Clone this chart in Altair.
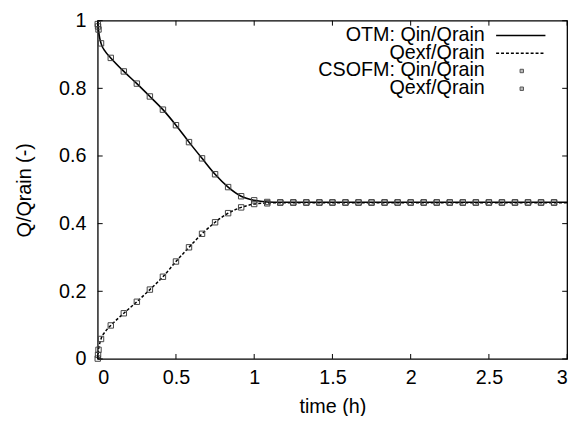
import altair as alt
import pandas as pd

FONT = "Liberation Sans"

# ---- data ----
# solid / dotted model curves (OTM)
t_line = [0.0, 0.002, 0.005, 0.01, 0.021, 0.05, 0.0833, 0.1667, 0.25, 0.3333,
          0.4167, 0.5, 0.5833, 0.6667, 0.75, 0.8333, 0.9167, 1.0, 1.0833, 1.1667,
          1.25, 1.5, 2.0, 2.5, 3.0]
qin_line = [1.0, 0.985, 0.972, 0.955, 0.933, 0.908, 0.890, 0.850, 0.814, 0.776,
            0.737, 0.691, 0.641, 0.593, 0.546, 0.508, 0.481, 0.469, 0.464, 0.463,
            0.463, 0.463, 0.463, 0.463, 0.463]
qexf_line = [0.0, 0.012, 0.027, 0.040, 0.059, 0.082, 0.099, 0.135, 0.169, 0.205,
             0.243, 0.288, 0.330, 0.370, 0.404, 0.431, 0.448, 0.458, 0.461, 0.462,
             0.462, 0.462, 0.462, 0.462, 0.462]

# square markers (CSOFM)
t_mark = [0.0, 0.002, 0.005, 0.021, 0.0833, 0.1667, 0.25, 0.3333, 0.4167, 0.5,
          0.5833, 0.6667, 0.75, 0.8333, 0.9167, 1.0, 1.0833, 1.1667, 1.25, 1.3333,
          1.4167, 1.5, 1.5833, 1.6667, 1.75, 1.8333, 1.9167, 2.0, 2.0833, 2.1667,
          2.25, 2.3333, 2.4167, 2.5, 2.5833, 2.6667, 2.75, 2.8333, 2.9167]
qin_mark = [0.990, 0.983, 0.974, 0.933, 0.890, 0.850, 0.814, 0.776, 0.737, 0.691,
            0.641, 0.593, 0.546, 0.508, 0.481, 0.469, 0.464, 0.463, 0.463, 0.463,
            0.463, 0.463, 0.463, 0.463, 0.463, 0.463, 0.463, 0.463, 0.463, 0.463,
            0.463, 0.463, 0.463, 0.463, 0.463, 0.463, 0.463, 0.463, 0.463]
qexf_mark = [0.001, 0.012, 0.027, 0.059, 0.099, 0.135, 0.169, 0.205, 0.243, 0.288,
             0.330, 0.370, 0.404, 0.431, 0.448, 0.458, 0.460, 0.462, 0.462, 0.462,
             0.462, 0.462, 0.462, 0.462, 0.462, 0.462, 0.462, 0.462, 0.462, 0.462,
             0.462, 0.462, 0.462, 0.462, 0.462, 0.462, 0.462, 0.462, 0.462]

x_ticks = [0, 0.5, 1, 1.5, 2, 2.5, 3]
y_ticks = [0, 0.2, 0.4, 0.6, 0.8, 1]
legend_labels = ["OTM: Qin/Qrain", "Qexf/Qrain", "CSOFM: Qin/Qrain", "Qexf/Qrain"]

W, H = 476, 343

df_line = pd.DataFrame({"t": t_line, "qin": qin_line, "qexf": qexf_line})
df_mark = pd.DataFrame({"t": t_mark, "qin": qin_mark, "qexf": qexf_mark})
df_xt = pd.DataFrame({"v": x_ticks})
df_yt = pd.DataFrame({"v": y_ticks})
df_one = pd.DataFrame({"k": [0]})

xscale = alt.Scale(domain=[0, 3], nice=False, zero=False)
yscale = alt.Scale(domain=[0, 1], nice=False, zero=False)

axis_common = dict(labelFont=FONT, labelFontSize=20, labelColor="black",
                   titleFont=FONT, titleFontSize=20, titleColor="black",
                   titleFontWeight="normal", grid=False, domain=False,
                   ticks=False, tickSize=0)

xaxis = alt.Axis(values=x_ticks, format="~g", title="time (h)",
                 labelBaseline="alphabetic", labelPadding=25,
                 titleX=W / 2, titleY=54, titleBaseline="alphabetic", titleAlign="center",
                 **axis_common)
yaxis = alt.Axis(values=y_ticks, format="~g", title="Q/Qrain (-)",
                 labelPadding=12, titleX=-74, titleY=H / 2,
                 titleBaseline="middle", titleAlign="center", titleAngle=270,
                 **axis_common)

base_line = alt.Chart(df_line)
line_in = base_line.mark_line(color="black", strokeWidth=1.6, interpolate="monotone").encode(
    x=alt.X("t:Q", scale=xscale, axis=xaxis),
    y=alt.Y("qin:Q", scale=yscale, axis=yaxis),
)
line_ex = base_line.mark_line(color="black", strokeWidth=1.5, strokeDash=[3, 2],
                              interpolate="monotone").encode(
    x=alt.X("t:Q", scale=xscale),
    y=alt.Y("qexf:Q", scale=yscale),
)

mark_style = dict(shape="square", filled=False, stroke="#444444", strokeWidth=1, size=30, opacity=1)
base_mark = alt.Chart(df_mark)
pts_in = base_mark.mark_point(**mark_style).encode(
    x=alt.X("t:Q", scale=xscale), y=alt.Y("qin:Q", scale=yscale))
pts_ex = base_mark.mark_point(**mark_style).encode(
    x=alt.X("t:Q", scale=xscale), y=alt.Y("qexf:Q", scale=yscale))

TL = 5
tick_b = alt.Chart(df_xt).mark_rule(color="black", strokeWidth=1).encode(
    x=alt.X("v:Q", scale=xscale), y=alt.value(H), y2=alt.value(H - TL))
tick_t = alt.Chart(df_xt).mark_rule(color="black", strokeWidth=1).encode(
    x=alt.X("v:Q", scale=xscale), y=alt.value(0), y2=alt.value(TL))
tick_l = alt.Chart(df_yt).mark_rule(color="black", strokeWidth=1).encode(
    y=alt.Y("v:Q", scale=yscale), x=alt.value(0), x2=alt.value(TL))
tick_r = alt.Chart(df_yt).mark_rule(color="black", strokeWidth=1).encode(
    y=alt.Y("v:Q", scale=yscale), x=alt.value(W), x2=alt.value(W - TL))

# legend (gnuplot style: right-aligned text, sample to the right)
leg_text_x = 392.5
row_base = [20.5, 38.5, 56.5, 74.5]
row_sym = [15, 33, 51, 69]
leg = []
for lab, yb in zip(legend_labels, row_base):
    leg.append(alt.Chart(df_one).mark_text(align="right", baseline="alphabetic", font=FONT,
                                           fontSize=20, color="black", text=lab).encode(
        x=alt.value(leg_text_x), y=alt.value(yb)))
leg.append(alt.Chart(df_one).mark_rule(color="black", strokeWidth=1.6).encode(
    x=alt.value(404), x2=alt.value(454), y=alt.value(row_sym[0])))
leg.append(alt.Chart(df_one).mark_rule(color="black", strokeWidth=1.5, strokeDash=[3, 2]).encode(
    x=alt.value(404), x2=alt.value(454), y=alt.value(row_sym[1])))
for ys in row_sym[2:]:
    leg.append(alt.Chart(df_one).mark_point(shape="square", filled=True, fill="#bbbbbb",
                                            stroke="#555555", strokeWidth=1, size=12,
                                            opacity=1).encode(
        x=alt.value(430), y=alt.value(ys)))

chart = alt.layer(line_in, line_ex, pts_in, pts_ex, tick_b, tick_t, tick_l, tick_r, *leg).properties(
    width=W, height=H,
    autosize=alt.AutoSizeParams(type="none"),
    padding={"left": 91, "top": 10, "right": 9, "bottom": 55},
    background="white",
).configure_view(
    stroke="black", strokeWidth=1.3
)

chart.save("out.html", embed_options={"renderer": "svg", "actions": False})
